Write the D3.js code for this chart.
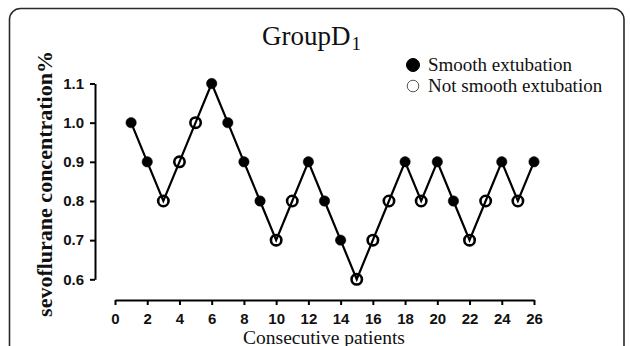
<!DOCTYPE html>
<html lang="en">
<head>
<meta charset="UTF-8">
<title>GroupD1</title>
<style>
    body { margin: 0; background: #fff; }
    svg { display: block; }
</style>
</head>
<body>
<div id="chart"></div>
<script src="https://d3js.org/d3.v7.min.js"></script>
<script>
    // patient number, sevoflurane %, smooth (1) or not (0)
    var patients = [1, 2, 3, 4, 5, 6, 7, 8, 9, 10, 11, 12, 13, 14, 15, 16, 17, 18, 19, 20, 21, 22, 23, 24, 25, 26];
    var conc = [1.0, 0.9, 0.8, 0.9, 1.0, 1.1, 1.0, 0.9, 0.8, 0.7, 0.8, 0.9, 0.8, 0.7, 0.6, 0.7, 0.8, 0.9, 0.8, 0.9, 0.8, 0.7, 0.8, 0.9, 0.8, 0.9];
    var smooth = [1, 1, 0, 0, 0, 1, 1, 1, 1, 0, 0, 1, 1, 1, 0, 0, 0, 1, 0, 1, 1, 0, 0, 1, 0, 1];
    var xTicks = [0, 2, 4, 6, 8, 10, 12, 14, 16, 18, 20, 22, 24, 26];
    var yTicks = [0.6, 0.7, 0.8, 0.9, 1.0, 1.1];
    var legendLabels = ["Smooth extubation", "Not smooth extubation"];

    var W = 630, H = 346;
    var svg = d3.select("#chart").append("svg")
        .attr("width", W)
        .attr("height", H);

    // outer frame, rounded at the top, runs off the bottom
    svg.append("rect")
        .attr("x", 9.5).attr("y", 8.5)
        .attr("width", 614.5).attr("height", 400)
        .attr("rx", 11)
        .style("fill", "none")
        .style("stroke", "#2a2a2a")
        .style("stroke-width", 1.6);

    var x = d3.scaleLinear().domain([0, 26]).range([115, 534]);
    var y = d3.scaleLinear().domain([0.6, 1.1]).range([279.3, 83.5]);

    var xAxis = svg.append("g")
        .attr("transform", "translate(0,300)")
        .call(d3.axisBottom(x).tickValues(xTicks).tickSize(5).tickSizeOuter(0).tickPadding(8).tickFormat(d3.format("d")));
    var yAxis = svg.append("g")
        .attr("transform", "translate(95,0)")
        .call(d3.axisLeft(y).tickValues(yTicks).tickSize(5).tickSizeOuter(0).tickPadding(6).tickFormat(d3.format(".1f")));

    [xAxis, yAxis].forEach(function (g) {
        g.selectAll("path, line").style("stroke", "#000").style("stroke-width", 2);
        g.selectAll("text")
            .style("font-family", "'Liberation Sans', Arial, sans-serif")
            .style("font-weight", "bold")
            .style("font-size", "15px")
            .style("fill", "#111");
    });

    // the line through all patients
    var pts = patients.map(function (p, i) { return { p: p, c: conc[i], s: smooth[i] }; });
    svg.append("path")
        .datum(pts)
        .attr("d", d3.line().x(function (d) { return x(d.p); }).y(function (d) { return y(d.c); }))
        .style("fill", "none")
        .style("stroke", "#000")
        .style("stroke-width", 2.2);

    svg.selectAll(".pt").data(pts).enter().append("circle")
        .attr("class", "pt")
        .attr("cx", function (d) { return x(d.p); })
        .attr("cy", function (d) { return y(d.c); })
        .attr("r", function (d) { return d.s ? 5.2 : 5.2; })
        .style("fill", function (d) { return d.s ? "#000" : "none"; })
        .style("stroke", "#000")
        .style("stroke-width", function (d) { return d.s ? 0.5 : 2.6; });

    // title with subscript
    var title = svg.append("text")
        .attr("x", 262).attr("y", 44.5)
        .style("font-family", "'Liberation Serif', 'Times New Roman', serif")
        .style("font-size", "27px")
        .style("fill", "#111");
    title.append("tspan").text("GroupD");
    title.append("tspan").attr("dx", 1).attr("dy", 5.5).style("font-size", "19px").text("1");

    // legend
    var leg = svg.selectAll(".leg").data(legendLabels).enter().append("g")
        .attr("class", "leg")
        .attr("transform", function (d, i) { return "translate(413," + (65 + i * 21) + ")"; });
    leg.append("circle")
        .attr("r", function (d, i) { return i === 0 ? 6.5 : 5.8; })
        .style("fill", function (d, i) { return i === 0 ? "#000" : "#fff"; })
        .style("stroke", function (d, i) { return i === 0 ? "#000" : "#555"; })
        .style("stroke-width", 1);
    leg.append("text")
        .attr("x", 15).attr("y", 5.5)
        .style("font-family", "'Liberation Serif', 'Times New Roman', serif")
        .style("font-size", "19px")
        .style("fill", "#111")
        .text(function (d) { return d; });

    // axis titles
    svg.append("text")
        .attr("transform", "translate(52,184) rotate(-90)")
        .attr("text-anchor", "middle")
        .style("font-family", "'Liberation Serif', 'Times New Roman', serif")
        .style("font-weight", "bold")
        .style("font-size", "22px")
        .style("fill", "#111")
        .text("sevoflurane concentration%");

    svg.append("text")
        .attr("x", 324).attr("y", 344)
        .attr("text-anchor", "middle")
        .style("font-family", "'Liberation Serif', 'Times New Roman', serif")
        .style("font-size", "19.5px")
        .style("fill", "#111")
        .text("Consecutive patients");
</script>
</body>
</html>
